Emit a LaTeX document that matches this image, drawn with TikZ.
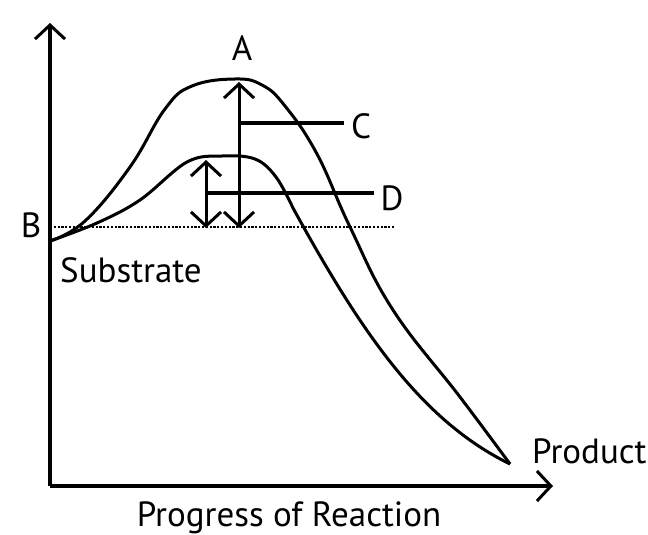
\documentclass[tikz,border=0pt]{standalone}
\usepackage{fontspec}
\setmainfont{PT Sans}
\usetikzlibrary{arrows.meta,positioning}

\begin{document}
\begin{tikzpicture}[x=1pt, y=-1pt, >={Straight Barb[length=14pt,width=30pt,line width=3pt]}]
\tikzset{
  lbl/.style={inner sep=0pt, font=\fontsize{35}{40}\selectfont, anchor=base},
  axis/.style={line width=3.4pt, ->},
  curve/.style={line width=3pt, line join=round},
  gap/.style={line width=3pt, <->},
  lead/.style={line width=3.2pt}
}
\useasboundingbox (0,0) rectangle (648,535);

% axes
\coordinate (O) at (50,486);
\coordinate (ytop) at (50,23);
\coordinate (xend) at (553,486);
\draw[axis] (O) -- (ytop);
\draw[axis] (O) -- (xend);

% substrate level and product
\coordinate (B) at (50,241);
\coordinate (P) at (510,464);
\coordinate (lvl) at (50,227);
\coordinate (lvlend) at (395,227);
\draw[line width=2.6pt, dash pattern=on 2.2pt off 1.6pt] (lvl) -- (lvlend);

% uncatalysed and catalysed paths
\draw[curve] plot[smooth, tension=0.7] coordinates {(B) (85,221) (130,167) (165,109) (192,86) (235,79) (262,85) (285,106) (317,154) (350,227) (393,310) (460,397) (P)};
\draw[curve] plot[smooth, tension=0.6] coordinates {(B) (97,223) (140,200) (187,162) (222,156) (255,159) (276,177) (293,208)}
  .. controls (360,330) and (420,420) .. (P);

% activation energies
\coordinate (ctop) at (239,82);
\coordinate (cbot) at (239,228);
\coordinate (dtop) at (206,160);
\coordinate (dbot) at (206,228);
\draw[gap] (cbot) -- (ctop);
\draw[gap] (dbot) -- (dtop);
\coordinate (cl) at (239,123);
\coordinate (cr) at (344,123);
\coordinate (dl) at (206,193);
\coordinate (dr) at (374,193);
\draw[lead] (cl) -- (cr);
\draw[lead] (dl) -- (dr);

% labels
\node[lbl] (A) at (242,61) {A};
\node[lbl] (Blbl) at (31,237) {B};
\node[lbl] (C) at (361,138) {C};
\node[lbl] (D) at (392,210) {D};
\node[lbl, anchor=base west] (sub) at (60,282) {Substrate};
\node[lbl, anchor=base west] (prod) at (532,463) {Product};
\node[lbl] (prog) at (289,526) {Progress of Reaction};
\end{tikzpicture}
\end{document}
